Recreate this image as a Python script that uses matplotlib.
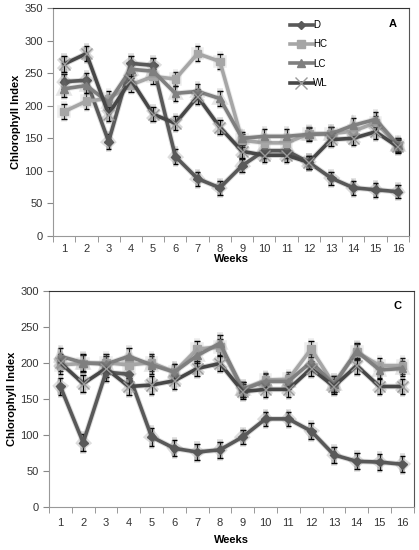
import matplotlib
matplotlib.use("Agg")
import matplotlib.pyplot as plt
import matplotlib.patheffects as pe
from matplotlib.lines import Line2D

weeks = list(range(1, 17))
series_names = ["D", "HC", "LC", "WL"]

# panel A
a_d = [237, 239, 145, 265, 262, 122, 88, 74, 108, 131, 131, 113, 89, 74, 71, 68]
a_hc = [191, 207, 211, 232, 245, 241, 280, 268, 147, 143, 143, 157, 157, 161, 174, 139]
a_lc = [226, 231, 205, 256, 253, 219, 222, 211, 150, 153, 153, 156, 157, 170, 179, 140]
a_wl = [264, 280, 187, 240, 187, 173, 214, 167, 130, 124, 124, 113, 148, 150, 160, 137]
a_err = [12, 12, 11, 11, 11, 11, 11, 11, 10, 11, 11, 10, 10, 11, 11, 10]

# panel C
c_d = [167, 89, 187, 184, 97, 81, 76, 79, 97, 122, 122, 105, 72, 63, 62, 59]
c_hc = [197, 199, 200, 197, 200, 187, 219, 222, 163, 176, 177, 219, 170, 215, 196, 196]
c_lc = [209, 200, 198, 209, 197, 187, 210, 227, 163, 174, 174, 201, 170, 216, 190, 192]
c_wl = [200, 171, 192, 167, 169, 175, 192, 199, 160, 163, 163, 192, 167, 196, 167, 167]
c_err = [12, 12, 12, 12, 12, 11, 11, 11, 10, 10, 10, 11, 11, 11, 11, 11]

colors = {"D": "#595959", "HC": "#a6a6a6", "LC": "#7f7f7f", "WL": "#474747"}
markers = {"D": "D", "HC": "s", "LC": "^", "WL": "x"}
msizes = {"D": 4.5, "HC": 5.5, "LC": 5.5, "WL": 8}

font = "Liberation Sans"


def mec(name):
    return "#9a9a9a" if name == "WL" else colors[name]


def draw_panel(ax, data, err, ymax, letter, tick_pad, label_pad, legend=False):
    for name, vals in zip(series_names, data):
        ax.errorbar(weeks, vals, yerr=err, color=colors[name], lw=2.6,
                    marker=markers[name], ms=msizes[name], mec=mec(name),
                    mew=1.0, ecolor="black", elinewidth=0.8, capsize=2,
                    capthick=0.8, zorder=3,
                    path_effects=[pe.Stroke(linewidth=4.0, foreground=colors[name], alpha=0.2),
                                  pe.Normal()])
    ax.set_xlim(0.5, 16.5)
    ax.set_ylim(0, ymax)
    ax.set_yticks(range(0, ymax + 1, 50))
    ax.set_xticks(weeks)
    ax.set_xticks([w + 0.5 for w in range(0, 17)], minor=True)
    ax.tick_params(axis="x", which="major", length=0, pad=tick_pad, labelsize=8)
    ax.tick_params(axis="x", which="minor", length=4, color="#888888")
    ax.tick_params(axis="y", length=4, color="#888888", labelsize=8)
    for lab in ax.get_xticklabels() + ax.get_yticklabels():
        lab.set_fontfamily(font)
        lab.set_color("#333333")
    ax.spines["left"].set_color("#999999")
    ax.spines["bottom"].set_color("#999999")
    ax.spines["top"].set_color("#333333")
    ax.spines["right"].set_color("#555555")
    ax.set_xlabel("Weeks", fontsize=8, fontweight="bold", fontfamily=font, labelpad=label_pad)
    ax.set_ylabel("Chlorophyll Index", fontsize=8, fontweight="bold", fontfamily=font, labelpad=2)
    ax.text(0.955, 0.93, letter, transform=ax.transAxes, fontsize=8,
            fontweight="bold", fontfamily=font, ha="center", va="center")
    if legend:
        handles = [Line2D([], [], color=colors[n], lw=2.6, marker=markers[n],
                          ms=msizes[n], mec=mec(n), mew=1.0) for n in series_names]
        ax.legend(handles, series_names, loc="upper left", bbox_to_anchor=(0.64, 0.985),
                  frameon=False, handlelength=2.4, handletextpad=0.0,
                  labelspacing=0.95, prop={"family": font, "size": 7})


fig = plt.figure(figsize=(4.19, 5.5), dpi=100)
ax_a = fig.add_axes([0.1265, 0.5709, 0.8496, 0.4145])
ax_c = fig.add_axes([0.117, 0.0787, 0.8704, 0.3927])

draw_panel(ax_a, [a_d, a_hc, a_lc, a_wl], a_err, 350, "A", tick_pad=6, label_pad=0, legend=True)
draw_panel(ax_c, [c_d, c_hc, c_lc, c_wl], c_err, 300, "C", tick_pad=8, label_pad=5)

fig.savefig("out.png", dpi=100)
